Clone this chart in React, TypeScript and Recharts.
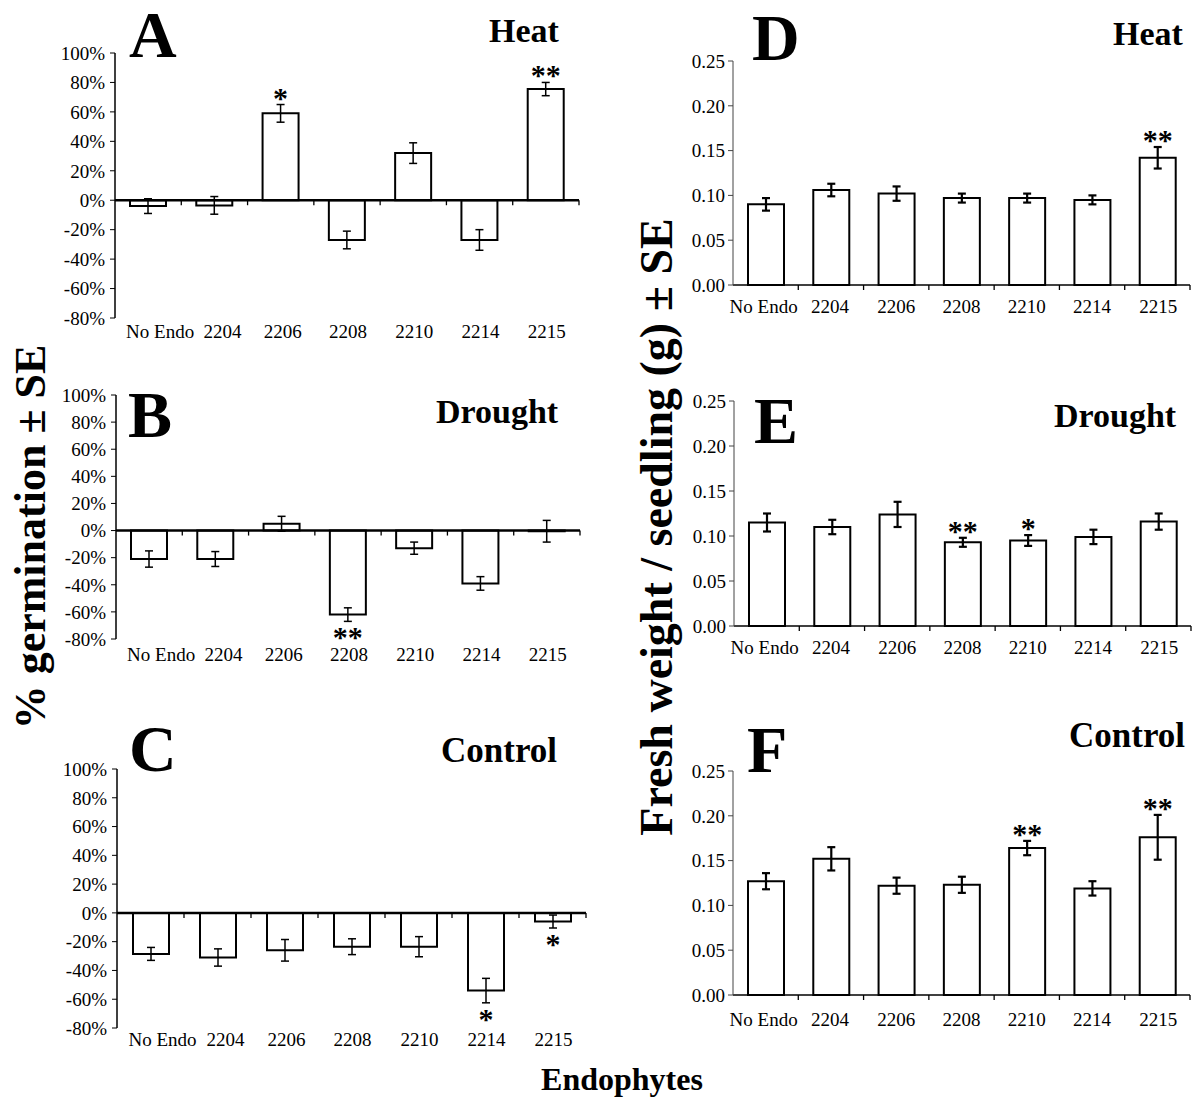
import React from 'react';
import { BarChart, Bar, XAxis, YAxis, ErrorBar, ReferenceLine, LabelList } from 'recharts';

const endophytes = ['No Endo', '2204', '2206', '2208', '2210', '2214', '2215'];

// % germination relative to control (A heat, B drought, C control)
const germHeat = [-4, -3.5, 59, -27, 32, -27, 75.5];
const germHeatSE = [5, 6, 6, 6, 7, 7, 4.5];
const germHeatSig = ['', '', '*', '', '', '', '**'];

const germDrought = [-21, -21, 5, -62, -13, -39, -0.5];
const germDroughtSE = [6, 5.5, 5.5, 5, 4.5, 5, 8];
const germDroughtSig = ['', '', '', '**', '', '', ''];

const germControl = [-28.5, -31, -26, -23.5, -23.5, -54, -6];
const germControlSE = [4.5, 6, 7.5, 5.5, 7, 8.5, 4.5];
const germControlSig = ['', '', '', '', '', '*', '*'];

// fresh weight per seedling, g (D heat, E drought, F control)
const fwHeat = [0.09, 0.106, 0.102, 0.097, 0.097, 0.095, 0.142];
const fwHeatSE = [0.007, 0.007, 0.008, 0.005, 0.005, 0.005, 0.012];
const fwHeatSig = ['', '', '', '', '', '', '**'];

const fwDrought = [0.115, 0.11, 0.124, 0.093, 0.095, 0.099, 0.116];
const fwDroughtSE = [0.01, 0.008, 0.014, 0.005, 0.006, 0.008, 0.009];
const fwDroughtSig = ['', '', '', '**', '*', '', ''];

const fwControl = [0.127, 0.152, 0.122, 0.123, 0.164, 0.119, 0.176];
const fwControlSE = [0.009, 0.013, 0.009, 0.009, 0.008, 0.008, 0.025];
const fwControlSig = ['', '', '', '', '**', '', '**'];

const germTicks = [-80, -60, -40, -20, 0, 20, 40, 60, 80, 100];
const fwTicks = [0, 0.05, 0.1, 0.15, 0.2, 0.25];

const SERIF = "'Liberation Serif', 'Times New Roman', serif";
const YW = 70;
const MT = 12;
const MR = 12;
const XH = 40;

const leftDx = [12, 8, 2, 1, 1, 1, 1];
const rightDx = [-2, -1, 0, 0, 0, 0, 1];

interface PanelProps {
  values: number[];
  errors: number[];
  stars: string[];
  axisX: number;
  top: number;
  bottom: number;
  right: number;
  germ: boolean;
  labelOffset: number;
}

const Panel = ({ values, errors, stars, axisX, top, bottom, right, germ, labelOffset }: PanelProps) => {
  const data = endophytes.map((name, i) => ({ name, v: values[i], err: errors[i], star: stars[i] }));
  const plotW = right - axisX;
  const plotH = bottom - top;
  const dxs = germ ? leftDx : rightDx;

  const starLabel = (p: any) => {
    const i = p.index;
    const s = stars[i];
    if (!s) return null;
    const vb = p.viewBox || p;
    const y0 = Math.min(vb.y, vb.y + vb.height);
    const y1 = Math.max(vb.y, vb.y + vb.height);
    const v = values[i];
    const perUnit = Math.abs(vb.height) / Math.abs(v);
    const cx = vb.x + vb.width / 2;
    const ty = v >= 0 ? y0 - errors[i] * perUnit + 3 : y1 + errors[i] * perUnit + 26;
    return (
      <text key={`s${i}`} x={cx} y={ty} textAnchor="middle" fontFamily={SERIF} fontWeight="bold" fontSize={30} fill="#000">
        {s}
      </text>
    );
  };

  const zeroLine = (p: any) => {
    const step = (p.x2 - p.x1) / 7;
    return (
      <g>
        <line x1={p.x1} x2={p.x2} y1={p.y1} y2={p.y1} stroke="#000" strokeWidth={germ ? 2.5 : 1.6} />
        {endophytes.map((_, i) => (
          <line key={i} x1={p.x1 + (i + 1) * step} x2={p.x1 + (i + 1) * step} y1={p.y1} y2={p.y1 + 5} stroke="#000" strokeWidth={1.3} />
        ))}
      </g>
    );
  };

  const xTick = (p: any) => (
    <text x={p.x + dxs[p.index]} y={p.y + labelOffset} textAnchor="middle" fontFamily={SERIF} fontSize={19} fill="#000">
      {p.payload.value}
    </text>
  );

  return (
    <div style={{ position: 'absolute', left: axisX - YW, top: top - MT }}>
      <BarChart
        width={YW + plotW + MR}
        height={MT + plotH + XH}
        data={data}
        margin={{ top: MT, right: MR, left: 0, bottom: 0 }}
      >
        <XAxis
          dataKey="name"
          axisLine={false}
          tickLine={false}
          tickSize={0}
          tickMargin={0}
          height={XH}
          interval={0}
          tick={xTick}
        />
        <YAxis
          width={YW}
          domain={germ ? [-80, 100] : [0, 0.25]}
          ticks={germ ? germTicks : fwTicks}
          interval={0}
          tickFormatter={(v: number) => (germ ? `${v}%` : v.toFixed(2))}
          axisLine={{ stroke: germ ? '#000' : '#444', strokeWidth: germ ? 1.5 : 1 }}
          tickLine={{ stroke: germ ? '#000' : '#444', strokeWidth: 1 }}
          tickSize={5}
          tickMargin={germ ? 5 : 3}
          tick={{ fontFamily: SERIF, fontSize: 19, fill: '#000' }}
        />
        <Bar dataKey="v" barSize={36} fill="#fff" stroke="#000" strokeWidth={2} isAnimationActive={false}>
          <ErrorBar dataKey="err" width={4} stroke="#000" strokeWidth={germ ? 1.5 : 2.2} direction="y" />
          <LabelList dataKey="star" content={starLabel} />
        </Bar>
        <ReferenceLine y={0} shape={zeroLine} />
      </BarChart>
    </div>
  );
};

const App = () => {
  const t = (s: string, x: number, y: number, size: number, anchor: string = 'start') => (
    <text x={x} y={y} fontFamily={SERIF} fontWeight="bold" fontSize={size} textAnchor={anchor} fill="#000">
      {s}
    </text>
  );
  return (
    <div style={{ position: 'absolute', left: 0, top: 0, width: 1194, height: 1097, background: '#fff', overflow: 'hidden' }}>
      <Panel values={germHeat} errors={germHeatSE} stars={germHeatSig} axisX={115} top={53} bottom={318} right={579} germ labelOffset={20} />
      <Panel values={germDrought} errors={germDroughtSE} stars={germDroughtSig} axisX={116} top={395} bottom={639} right={580} germ labelOffset={22} />
      <Panel values={germControl} errors={germControlSE} stars={germControlSig} axisX={117} top={769} bottom={1028} right={586} germ labelOffset={18} />
      <Panel values={fwHeat} errors={fwHeatSE} stars={fwHeatSig} axisX={733} top={61} bottom={285} right={1190} germ={false} labelOffset={28} />
      <Panel values={fwDrought} errors={fwDroughtSE} stars={fwDroughtSig} axisX={734} top={401} bottom={626} right={1191} germ={false} labelOffset={28} />
      <Panel values={fwControl} errors={fwControlSE} stars={fwControlSig} axisX={733} top={771} bottom={995} right={1190} germ={false} labelOffset={31} />

      <svg width={1194} height={1097} style={{ position: 'absolute', left: 0, top: 0, pointerEvents: 'none' }}>
        {t('A', 129, 57, 66)}
        {t('Heat', 489, 42, 34)}
        {t('B', 128, 437, 66)}
        {t('Drought', 436, 423, 34)}
        {t('C', 129, 771, 66)}
        {t('Control', 441, 762, 35)}
        {t('D', 752, 60, 66)}
        {t('Heat', 1113, 45, 34)}
        {t('E', 754, 443, 66)}
        {t('Drought', 1054, 427, 34)}
        {t('F', 747, 772, 66)}
        {t('Control', 1069, 747, 35)}
        {t('Endophytes', 622, 1090, 32, 'middle')}
        <text transform="translate(45,537) rotate(-90)" fontFamily={SERIF} fontWeight="bold" fontSize={44} textAnchor="middle" fill="#000">
          % germination ± SE
        </text>
        <text transform="translate(672,527) rotate(-90)" fontFamily={SERIF} fontWeight="bold" fontSize={46} textAnchor="middle" fill="#000">
          Fresh weight / seedling (g) ± SE
        </text>
      </svg>
    </div>
  );
};

export default App;
